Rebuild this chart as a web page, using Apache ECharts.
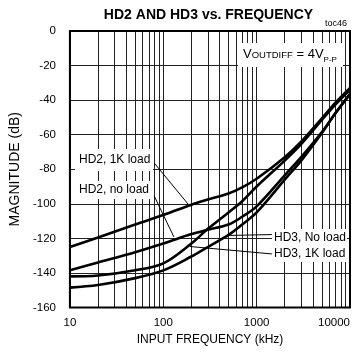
<!DOCTYPE html>
<html><head><meta charset="utf-8">
<script src="https://cdn.jsdelivr.net/npm/echarts@6/dist/echarts.min.js"></script>
<style>html,body{margin:0;padding:0;background:#fff}#c{width:359px;height:355px}</style>
</head><body><div id="c"></div>
<script>
const FONT = '"Liberation Sans", Arial, sans-serif';

// frequency (kHz)
const freqs = [10, 20, 50, 100, 200, 300, 500, 700, 1000, 2000, 3000, 5000, 7000, 10000];
// magnitude (dB)
const hd2_1k     = [-125, -119.5, -112, -106.5, -100.5, -97.5, -94, -90.5, -85.5, -73, -64, -50.5, -41.5, -33];
const hd2_noload = [-138.5, -134, -128, -123, -117.5, -115, -112, -107.5, -101.5, -83.5, -73, -58.5, -47.5, -36.5];
const hd3_1k     = [-142, -141.5, -138.5, -134.5, -123, -114.5, -105, -98.5, -90, -75, -65.5, -51.5, -42.5, -34];
const hd3_noload = [-148.5, -147, -143, -138.5, -130.5, -125, -118, -112, -105, -86, -75, -59, -47.5, -36.5];

const yMin = -160, yMax = 0, yStep = 20;
const xMin = 10, xMax = 10000;
const xMinorGrid = [20,30,40,50,60,70,80,90,200,300,400,500,600,700,800,900,2000,3000,4000,5000,6000,7000,8000,9000];

// annotation arrows: [label end, arrow tip] in data units
const arrows = [
  [[80, -76.4], [192, -101.3]],   // HD2, 1K load
  [[80, -95.5], [130, -119.2]],   // HD2, no load
  [[1455, -117.8], [509, -118.3]],// HD3, No load
  [[1455, -129], [192, -124.7]]   // HD3, 1K load
];

const pair = (ys) => freqs.map((f, i) => [f, ys[i]]);
const curveStyle = { color: '#000', width: 2.6 };

function mkSeries(name, ys, extra) {
  return Object.assign({
    name, type: 'line', data: pair(ys), showSymbol: false, smooth: 0.35,
    lineStyle: curveStyle, itemStyle: { color: '#000' }, silent: true, z: 5
  }, extra || {});
}

const chart = echarts.init(document.getElementById('c'), null, { renderer: 'canvas' });
chart.setOption({
  animation: false,
  backgroundColor: '#fff',
  grid: { left: 67, top: 31, right: 9, bottom: 47.5, show: true, borderColor: '#000', borderWidth: 2, z: 10 },
  xAxis: {
    type: 'log', logBase: 10, min: xMin, max: xMax,
    name: 'INPUT FREQUENCY (kHz)', nameLocation: 'middle', nameGap: 23,
    nameTextStyle: { fontFamily: FONT, fontSize: 12, color: '#000' },
    axisLine: { show: false }, axisTick: { show: false },
    axisLabel: { fontFamily: FONT, fontSize: 11.5, color: '#000', margin: 9, alignMaxLabel: 'right',
      formatter: v => String(Math.round(v)) },
    splitLine: { show: true, lineStyle: { color: '#222', width: 1 } }
  },
  yAxis: {
    type: 'value', min: yMin, max: yMax, interval: yStep,
    name: 'MAGNITUDE (dB)', nameLocation: 'middle', nameGap: 44, nameRotate: 90,
    nameTextStyle: { fontFamily: FONT, fontSize: 14, color: '#000' },
    axisLine: { show: false }, axisTick: { show: false },
    axisLabel: { fontFamily: FONT, fontSize: 11.5, color: '#000', margin: 14 },
    splitLine: { show: true, lineStyle: { color: '#222', width: 1 } }
  },
  series: [
    mkSeries('HD2, 1K load', hd2_1k, {
      markLine: {
        silent: true, symbol: 'none', animation: false,
        label: { show: false },
        lineStyle: { color: '#222', width: 1, type: 'solid' },
        data: xMinorGrid.map(v => ({ xAxis: v }))
      }
    }),
    mkSeries('HD2, no load', hd2_noload),
    mkSeries('HD3, 1K load', hd3_1k),
    mkSeries('HD3, No load', hd3_noload, {
      markLine: {
        silent: true, animation: false, z: 20,
        symbol: ['none', 'arrow'], symbolSize: [0, [5, 10]],
        label: { show: false },
        lineStyle: { color: '#000', width: 1, type: 'solid' },
        data: arrows.map(a => [{ coord: a[0] }, { coord: a[1] }])
      }
    })
  ],
  graphic: [
    { type: 'text', z: 100, x: 208.5, y: 15,
      style: { text: 'HD2 AND HD3 vs. FREQUENCY', font: 'bold 14px ' + FONT, fill: '#000',
        textAlign: 'center', textVerticalAlign: 'middle' } },
    { type: 'text', z: 100, x: 347, y: 24,
      style: { text: 'toc46', font: '9px ' + FONT, fill: '#000', textAlign: 'right', textVerticalAlign: 'middle' } },
    { type: 'rect', z: 90, shape: { x: 238, y: 43, width: 105, height: 24 }, style: { fill: '#fff' } },
    { type: 'text', z: 100, x: 243, y: 48,
      style: {
        text: '{v|V}{s|OUTDIFF}{v| = 4V}{sub|P-P}',
        rich: {
          v: { font: '13px ' + FONT, fill: '#000', verticalAlign: 'bottom' },
          s: { font: '9.5px ' + FONT, fill: '#000', verticalAlign: 'bottom', padding: [0, 0, 1, 0] },
          sub: { font: '8px ' + FONT, fill: '#000', verticalAlign: 'bottom', padding: [0, 0, -3, 0] }
        }
      } },
    { type: 'rect', z: 90, shape: { x: 75, y: 149, width: 78, height: 22 }, style: { fill: '#fff' } },
    { type: 'text', z: 100, x: 79, y: 160, style: { text: 'HD2, 1K load', font: '12px ' + FONT, fill: '#000', textVerticalAlign: 'middle' } },
    { type: 'rect', z: 90, shape: { x: 75, y: 181, width: 78, height: 18 }, style: { fill: '#fff' } },
    { type: 'text', z: 100, x: 79, y: 190, style: { text: 'HD2, no load', font: '12px ' + FONT, fill: '#000', textVerticalAlign: 'middle' } },
    { type: 'rect', z: 90, shape: { x: 272, y: 229, width: 75, height: 33 }, style: { fill: '#fff' } },
    { type: 'text', z: 100, x: 274, y: 237.5, style: { text: 'HD3, No load', font: '12px ' + FONT, fill: '#000', textVerticalAlign: 'middle' } },
    { type: 'text', z: 100, x: 274, y: 254, style: { text: 'HD3, 1K load', font: '12px ' + FONT, fill: '#000', textVerticalAlign: 'middle' } }
  ]
});
</script>
</body></html>
